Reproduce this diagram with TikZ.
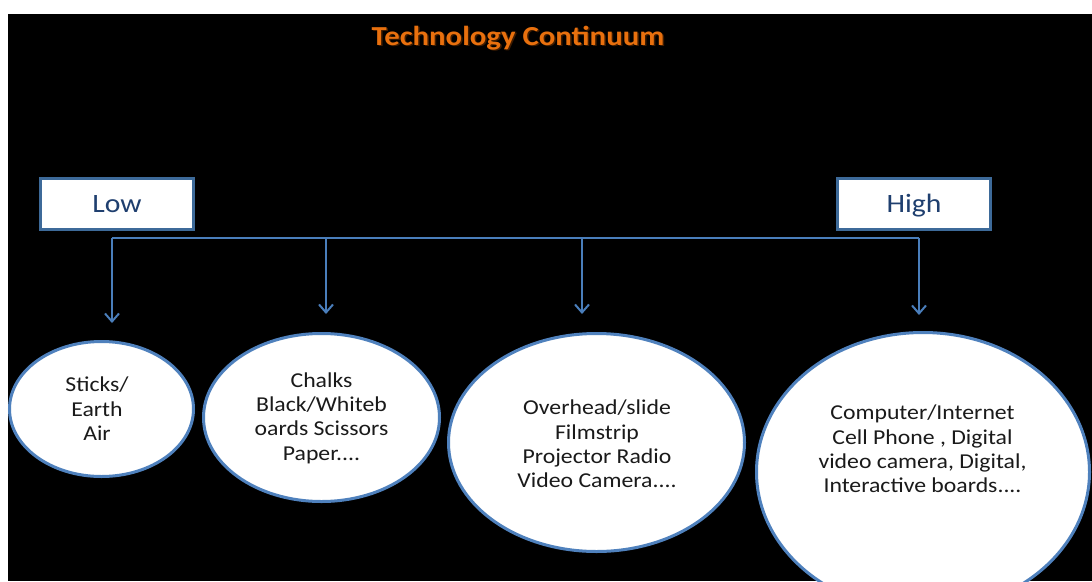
\documentclass[tikz,border=0pt]{standalone}
\usepackage{fontspec}
\setmainfont[FakeStretch=1.12]{Carlito}
\usetikzlibrary{arrows.meta,shapes.geometric}

\definecolor{pageblack}{HTML}{000000}
\definecolor{titleorange}{HTML}{E8700E}
\definecolor{titleshade}{HTML}{6B3000}
\definecolor{wireblue}{HTML}{4A7EBB}
\definecolor{ovalblue}{HTML}{4F81BD}
\definecolor{boxblue}{HTML}{3D6A99}
\definecolor{navytext}{HTML}{1F3F6F}
\definecolor{bodytext}{HTML}{1A1A1A}

\tikzset{
  levelbox/.style={draw=boxblue, line width=3pt, fill=white, rectangle,
    minimum width=153pt, minimum height=51pt, inner sep=0pt,
    text height=17pt, text depth=0pt,
    text=navytext, font={\fontsize{26.5}{30}\selectfont}},
  oval/.style={draw=ovalblue, line width=3pt, fill=white, ellipse, inner sep=0pt},
  ovaltext/.style={align=center, text=bodytext, inner sep=0pt,
    font={\fontsize{21.2}{24.4}\selectfont}},
  wire/.style={draw=wireblue, line width=2pt},
  arr/.style={wire, -{Straight Barb[length=8pt,width=14pt,line width=2pt]}},
  titletext/.style={anchor=base, inner sep=0pt,
    font={\fontsize{27.5}{30}\selectfont\bfseries}}
}

\begin{document}
\begin{tikzpicture}[x=1pt,y=-1pt]
  % page: white margin on the top and left, black panel elsewhere
  \fill[white] (0,0) rectangle (1092,581);
  \useasboundingbox (0,0) rectangle (1092,581);
  \clip (0,0) rectangle (1092,581);
  \fill[pageblack] (8,14) rectangle (1092,581);

  % title with a soft drop shadow
  \node[titletext, text=titleshade, opacity=0.6] (titleshadow) at (519.5,46.5) {Technology Continuum};
  \node[titletext, text=titleorange] (title) at (518,45) {Technology Continuum};

  % the two ends of the continuum
  \node[levelbox] (low) at (117,204) {Low};
  \node[levelbox] (high) at (914,204) {High};

  % groups of technologies
  \node[oval, minimum width=184pt, minimum height=135pt] (e1) at (101.5,409) {};
  \node[oval, minimum width=236pt, minimum height=168pt] (e2) at (321.5,417.5) {};
  \node[oval, minimum width=296pt, minimum height=218pt] (e3) at (596.5,442.5) {};
  \node[oval, minimum width=333pt, minimum height=279pt] (e4) at (923,472) {};

  \node[ovaltext] (t1) at (97,409) {Sticks/\\Earth\\Air};
  \node[ovaltext] (t2) at (321.5,418) {Chalks\\Black/Whiteb\\oards Scissors\\Paper....};
  \node[ovaltext] (t3) at (597,444) {Overhead/slide\\Filmstrip\\Projector Radio\\Video Camera....};
  \node[ovaltext] (t4) at (922.5,449) {Computer/Internet\\Cell Phone , Digital\\video camera, Digital,\\Interactive boards....};

  % distribution line and its arrows
  \coordinate (j1) at (112,238);
  \coordinate (j2) at (326,238);
  \coordinate (j3) at (582,238);
  \coordinate (j4) at (919,238);
  \coordinate (a1) at (112,323);
  \coordinate (a2) at (326,314);
  \coordinate (a3) at (582,314);
  \coordinate (a4) at (919,315);

  \draw[wire] (j1) -- (j4);
  \draw[arr] (j1) -- (a1);
  \draw[arr] (j2) -- (a2);
  \draw[arr] (j3) -- (a3);
  \draw[arr] (j4) -- (a4);
\end{tikzpicture}
\end{document}
